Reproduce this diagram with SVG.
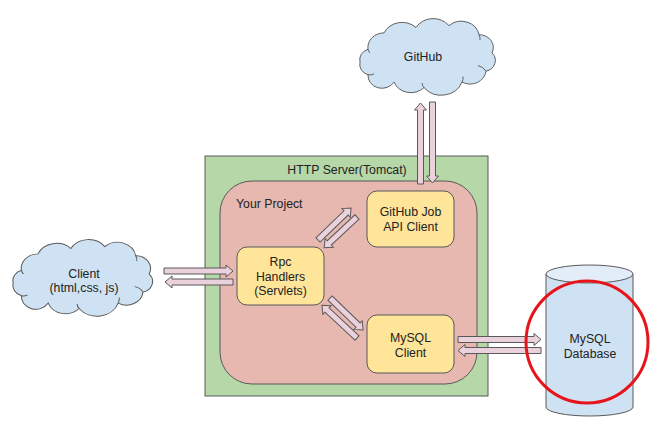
<svg xmlns="http://www.w3.org/2000/svg" width="663" height="434" viewBox="0 0 663 434">
<defs>
<style>
text{font-family:"Liberation Sans",Arial,sans-serif;font-size:12.3px;fill:#222;text-anchor:middle}
.box{fill:#ffe599;stroke:#595959;stroke-width:1}
.cloud{fill:#cfe2f3;stroke:#595959;stroke-width:1}
.inner{fill:none;stroke:#595959;stroke-width:1}
.arr{fill:#ead1dc;stroke:#595959;stroke-width:1}
</style>
<path id="cloudshape" d="M14,30 A16,16 0 0 1 30,12 A20,20 0 0 1 62,6 A20,20 0 0 1 95,4 A18,18 0 0 1 125,14 A14,14 0 0 1 138,34 A12,12 0 0 1 132,54 A16,16 0 0 1 108,66 A22,22 0 0 1 70,72 A18,18 0 0 1 40,66 A14,14 0 0 1 14,58 A12,12 0 0 1 6,44 A12,12 0 0 1 14,30 Z"/>
<path id="cloudinner" d="M14,30 A10,10 0 0 0 16,34 M125,14 A10,10 0 0 1 126,20 M132,54 A12,12 0 0 0 124,48 M108,66 A10,10 0 0 0 109,60 M70,72 A8,8 0 0 1 68,67 M14,58 A8,8 0 0 0 20,57"/>
</defs>
<rect width="663" height="434" fill="#fff"/>
<g id="http-server">
<rect x="205" y="156" width="283" height="240" fill="#b6d7a8" stroke="#595959"/>
<text x="347" y="174">HTTP Server(Tomcat)</text>
</g>
<g id="your-project">
<rect x="220" y="181" width="257" height="203" rx="32" fill="#e6b8af" stroke="#595959"/>
<text x="236" y="208" style="text-anchor:start">Your Project</text>
</g>
<g id="github">
<g transform="translate(354,22) scale(1,0.91)">
<use href="#cloudshape" class="cloud"/>
<use href="#cloudinner" class="inner"/>
</g>
<text x="423" y="61">GitHub</text>
</g>
<g id="client">
<g transform="translate(7,243) scale(1.03,0.91)">
<use href="#cloudshape" class="cloud"/>
<use href="#cloudinner" class="inner"/>
</g>
<text x="84" y="278">Client</text>
<text x="84" y="292">(html,css, js)</text>
</g>
<g id="github-job-api-client">
<rect class="box" x="367" y="191" width="87" height="56" rx="10"/>
<text x="410.5" y="216">GitHub Job</text>
<text x="410.5" y="231">API Client</text>
</g>
<g id="rpc-handlers">
<rect class="box" x="237" y="247" width="87" height="58" rx="10"/>
<text x="280.5" y="266">Rpc</text>
<text x="280.5" y="281">Handlers</text>
<text x="280.5" y="295">(Servlets)</text>
</g>
<g id="mysql-client">
<rect class="box" x="367" y="315" width="87" height="58" rx="10"/>
<text x="410.5" y="342">MySQL</text>
<text x="410.5" y="357">Client</text>
</g>
<g id="mysql-database">
<path d="M546,274 L546,407 A43.5,9 0 0 0 633,407 L633,274" fill="#cfe2f3" stroke="#595959"/>
<ellipse cx="589.5" cy="274" rx="43.5" ry="9" fill="#e2edf8" stroke="#595959"/>
<text x="590" y="343">MySQL</text>
<text x="590" y="358">Database</text>
</g>
<g id="connectors">
<path class="arr" transform="translate(164,271)" d="M0,-3 H62 V-6 L69,0 L62,6 V3 H0 Z"/>
<path class="arr" transform="translate(233,282) rotate(180)" d="M0,-3 H61 V-6 L68,0 L61,6 V3 H0 Z"/>
<path class="arr" transform="translate(458,339.5)" d="M0,-3 H76 V-6 L83,0 L76,6 V3 H0 Z"/>
<path class="arr" transform="translate(541,350.5) rotate(180)" d="M0,-3 H76 V-6 L83,0 L76,6 V3 H0 Z"/>
<path class="arr" transform="translate(420.5,184) rotate(-90)" d="M0,-3 H74 V-6 L81,0 L74,6 V3 H0 Z"/>
<path class="arr" transform="translate(432.5,102) rotate(90)" d="M0,-3 H74 V-6 L81,0 L74,6 V3 H0 Z"/>
<path class="arr" transform="translate(318,240) rotate(-44)" d="M0,-3 H39 V-6 L46,0 L39,6 V3 H0 Z"/>
<path class="arr" transform="translate(357,217) rotate(137)" d="M0,-3 H38 V-6 L45,0 L38,6 V3 H0 Z"/>
<path class="arr" transform="translate(330,298) rotate(44)" d="M0,-3 H39 V-6 L46,0 L39,6 V3 H0 Z"/>
<path class="arr" transform="translate(357,338) rotate(-137)" d="M0,-3 H41 V-6 L48,0 L41,6 V3 H0 Z"/>
</g>
<ellipse id="highlight" cx="587" cy="342" rx="61" ry="61" fill="none" stroke="#e8141b" stroke-width="3"/>
</svg>
